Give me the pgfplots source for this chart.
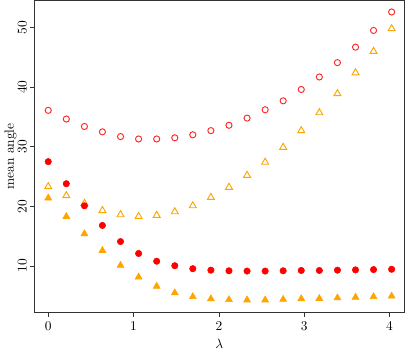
\documentclass[border=0pt]{standalone}
\usepackage{pgfplots}
\pgfplotsset{compat=1.18}
\usepackage{pgfplotstable}
\definecolor{cred}{HTML}{FF0000}
\definecolor{corange}{HTML}{FFA500}

\pgfplotstableread{
x      oc     fc     ot    ft
0.000  36.1   27.5   23.3  21.4
0.212  34.65  23.8   21.8  18.3
0.424  33.4   20.1   20.5  15.4
0.635  32.5   16.8   19.3  12.6
0.847  31.7   14.1   18.6  10.1
1.059  31.3   12.1   18.3  8.15
1.271  31.3   10.8   18.5  6.6
1.483  31.5   10.05  19.1  5.5
1.694  32.0   9.55   20.1  4.85
1.906  32.7   9.3    21.5  4.5
2.118  33.6   9.2    23.2  4.35
2.330  34.8   9.15   25.2  4.3
2.542  36.2   9.15   27.4  4.3
2.753  37.7   9.2    29.9  4.4
2.965  39.6   9.25   32.7  4.5
3.177  41.7   9.25   35.7  4.55
3.389  44.1   9.3    38.9  4.65
3.601  46.7   9.35   42.4  4.75
3.812  49.5   9.4    46.0  4.85
4.024  52.6   9.45   49.8  4.95
}\data

\begin{document}
\begin{tikzpicture}
\begin{axis}[
    scale only axis,
    width=276.75pt,
    height=233.25pt,
    xmin=-0.165, xmax=4.176,
    ymin=2.18, ymax=54.54,
    xtick={0,1,2,3,4},
    ytick={10,20,30,40,50},
    tick align=outside,
    xtick pos=left,
    ytick pos=left,
    major tick length=3pt,
    axis line style={black!80, line width=0.6pt},
    tick style={black!80, line width=0.6pt},
    yticklabel style={rotate=90, anchor=south, inner sep=2.5pt},
    xlabel={$\lambda$},
    ylabel={mean angle},
    xlabel style={yshift=0pt},
    ylabel style={yshift=-5pt},
]
\addplot[only marks, mark=triangle, mark size=3pt, draw=corange, line width=0.7pt] table[x=x, y=ot] {\data};
\addplot[only marks, mark=triangle*, mark size=3pt, draw=corange, fill=corange] table[x=x, y=ft] {\data};
\addplot[only marks, mark=o, mark size=2.3pt, draw=cred!85!white, line width=0.7pt] table[x=x, y=oc] {\data};
\addplot[only marks, mark=*, mark size=2.4pt, draw=cred, fill=cred] table[x=x, y=fc] {\data};
\end{axis}
\end{tikzpicture}
\end{document}
